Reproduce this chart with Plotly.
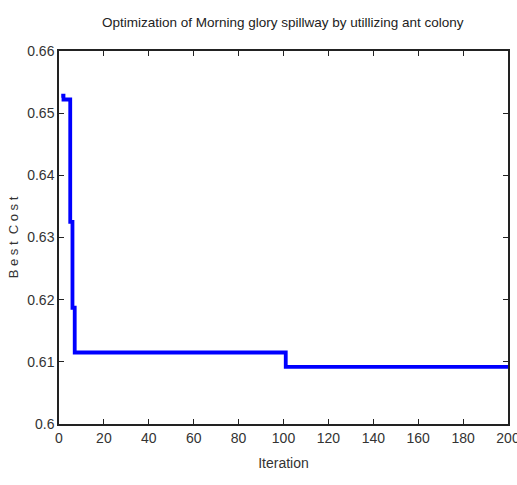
import plotly.graph_objects as go

iterations = [1, 2, 5, 6, 7, 101, 200]
best_cost = [0.6528, 0.6522, 0.6325, 0.6187, 0.6115, 0.6092, 0.6092]

x_ticks = [0, 20, 40, 60, 80, 100, 120, 140, 160, 180, 200]
y_ticks = [0.6, 0.61, 0.62, 0.63, 0.64, 0.65, 0.66]

font_family = "Liberation Sans Narrow, Arial Narrow, Liberation Sans, Arial, sans-serif"

fig = go.Figure()
fig.add_trace(go.Scatter(
    x=iterations, y=best_cost, mode="lines",
    line=dict(color="#0000FF", width=3.8, shape="hv"),
    showlegend=False,
))

axis_common = dict(
    showgrid=False, zeroline=False, showline=True, linecolor="#222", linewidth=1.5,
    mirror="ticks", ticks="inside", ticklen=5, tickcolor="#222",
    tickfont=dict(family=font_family, size=14, color="#333"),
    automargin=False, ticklabeloverflow="allow",
)

fig.update_layout(
    width=517, height=485,
    margin=dict(l=59, r=9, t=51, b=61),
    paper_bgcolor="white", plot_bgcolor="white",
    title=dict(text="Optimization of Morning glory spillway by utillizing ant colony",
               x=0.547, xanchor="center", y=0.955, yanchor="middle",
               font=dict(family=font_family, size=13.5, color="#222")),
    xaxis=dict(range=[0, 200], tickvals=x_ticks, ticktext=[str(t) for t in x_ticks],
               title=dict(text="Iteration", font=dict(family=font_family, size=14, color="#333"), standoff=14),
               **axis_common),
    yaxis=dict(range=[0.6, 0.66], tickvals=y_ticks, ticktext=[f"{t:g}" for t in y_ticks],
               title=dict(text="B e s t  C o s t", font=dict(family=font_family, size=13, color="#333"), standoff=6),
               **axis_common),
)

fig.write_html("out.html", config={"displayModeBar": False},
               post_script="document.body.style.margin='0';document.body.style.overflow='hidden';")
